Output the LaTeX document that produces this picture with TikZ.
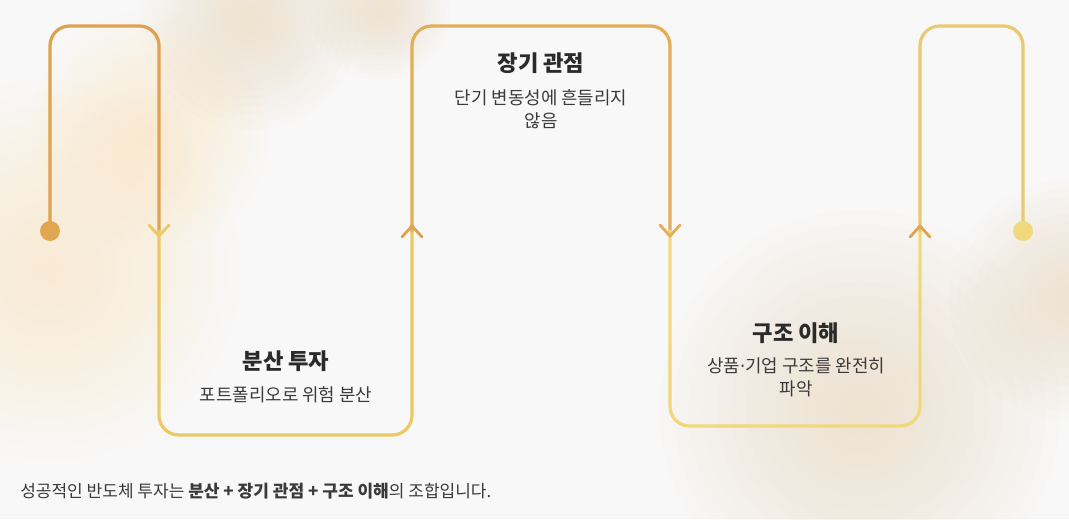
\documentclass[tikz,border=0pt]{standalone}
\usepackage{fontspec}
\setmainfont{Noto Sans CJK KR}
\newfontfamily\dotfont{DejaVu Sans}
\usepackage{xcolor}
\usepackage{tikz}
\usetikzlibrary{arrows.meta, positioning, calc}
\definecolor{bgcol}{HTML}{F8F8F8}
\definecolor{goldA}{HTML}{E0A24E}
\definecolor{goldB}{HTML}{EDC866}
\definecolor{goldC}{HTML}{E4AE58}
\definecolor{goldD}{HTML}{F0D87C}
\definecolor{goldE}{HTML}{EBC96E}
\definecolor{creamblob}{HTML}{FDEAB0}
\definecolor{sandblob}{HTML}{EFD2AA}
\definecolor{inktitle}{HTML}{2A2A2A}
\definecolor{inktext}{HTML}{3A3A3A}

\tikzset{
  track/.style={line width=2.3pt, rounded corners=14pt, line cap=round},
  chev/.style={line width=2pt, line cap=round, line join=round},
  steptitle/.style={font=\fontsize{15.8}{18}\selectfont\bfseries, text=inktitle, inner sep=0pt},
  stepdesc/.style={font=\fontsize{12.7}{16.4}\selectfont, text=inktext, align=center, inner sep=0pt}
}

% soft blob from stacked faint discs
\newcommand{\softblob}[3]{%
  \foreach \k in {1,...,14}
    \fill[#3, opacity=0.04] (#1) circle ({#2*\k/14});
}

\begin{document}
\begin{tikzpicture}[x=0.025cm, y=-0.025cm]
    % background
    \fill[bgcol] (0,0) rectangle (1069,519);
    \useasboundingbox (0,0) rectangle (1069,519);
    \begin{scope}
        \clip (0,0) rectangle (1069,519);
        \softblob{50,270}{190}{creamblob}
        \softblob{150,130}{120}{creamblob}
        \softblob{250,20}{110}{sandblob}
        \softblob{380,10}{70}{sandblob}
        \softblob{860,410}{200}{sandblob}
        \softblob{1069,300}{120}{sandblob}
    \end{scope}

    % anchor points of the track
    \coordinate (start) at (50,231);
    \coordinate (stop) at (1023,231);
    \coordinate (m1) at (159,231);
    \coordinate (m2) at (412,231);
    \coordinate (m3) at (670,231);
    \coordinate (m4) at (920,231);

    % track
    \draw[track, goldA] (start) |- (105,26) -| (m1);
    \draw[track, goldB] (m1) |- (286,435) -| (m2);
    \draw[track, goldC] (m2) |- (541,26) -| (m3);
    \draw[track, goldD] (m3) |- (796,426) -| (m4);
    \draw[track, goldE] (m4) |- (970,26) -| (stop);

    \fill[goldA!90!goldB] (start) circle (10);
    \fill[goldD] (stop) circle (10);

    % direction marks
    \draw[chev, goldB] ($(m1)+(-10,-6)$) -- ($(m1)+(0,5)$) -- ($(m1)+(10,-6)$);
    \draw[chev, goldA] ($(m2)+(-10,6)$) -- ($(m2)+(0,-5)$) -- ($(m2)+(10,6)$);
    \draw[chev, goldC] ($(m3)+(-10,-6)$) -- ($(m3)+(0,5)$) -- ($(m3)+(10,-6)$);
    \draw[chev, goldA] ($(m4)+(-10,6)$) -- ($(m4)+(0,-5)$) -- ($(m4)+(10,6)$);

    % labels
    \node[steptitle] (t1) at (286,361) {분산 투자};
    \node[stepdesc] (d1) at (286,395) {포트폴리오로 위험 분산};
    \node[steptitle] (t2) at (541,63) {장기 관점};
    \node[stepdesc] (d2) at (541,109) {단기 변동성에 흔들리지\\않음};
    \node[steptitle] (t3) at (796,333) {구조 이해};
    \node[stepdesc] (d3) at (796,377) {상품{\dotfont ·}기업 구조를 완전히\\파악};

    \node[anchor=west, inner sep=0pt, text=inktext, font=\fontsize{12.1}{14}\selectfont] (summary) at (20,491)
        {성공적인 반도체 투자는 \textbf{분산 + 장기 관점 + 구조 이해}의 조합입니다.};
\end{tikzpicture}
\end{document}
